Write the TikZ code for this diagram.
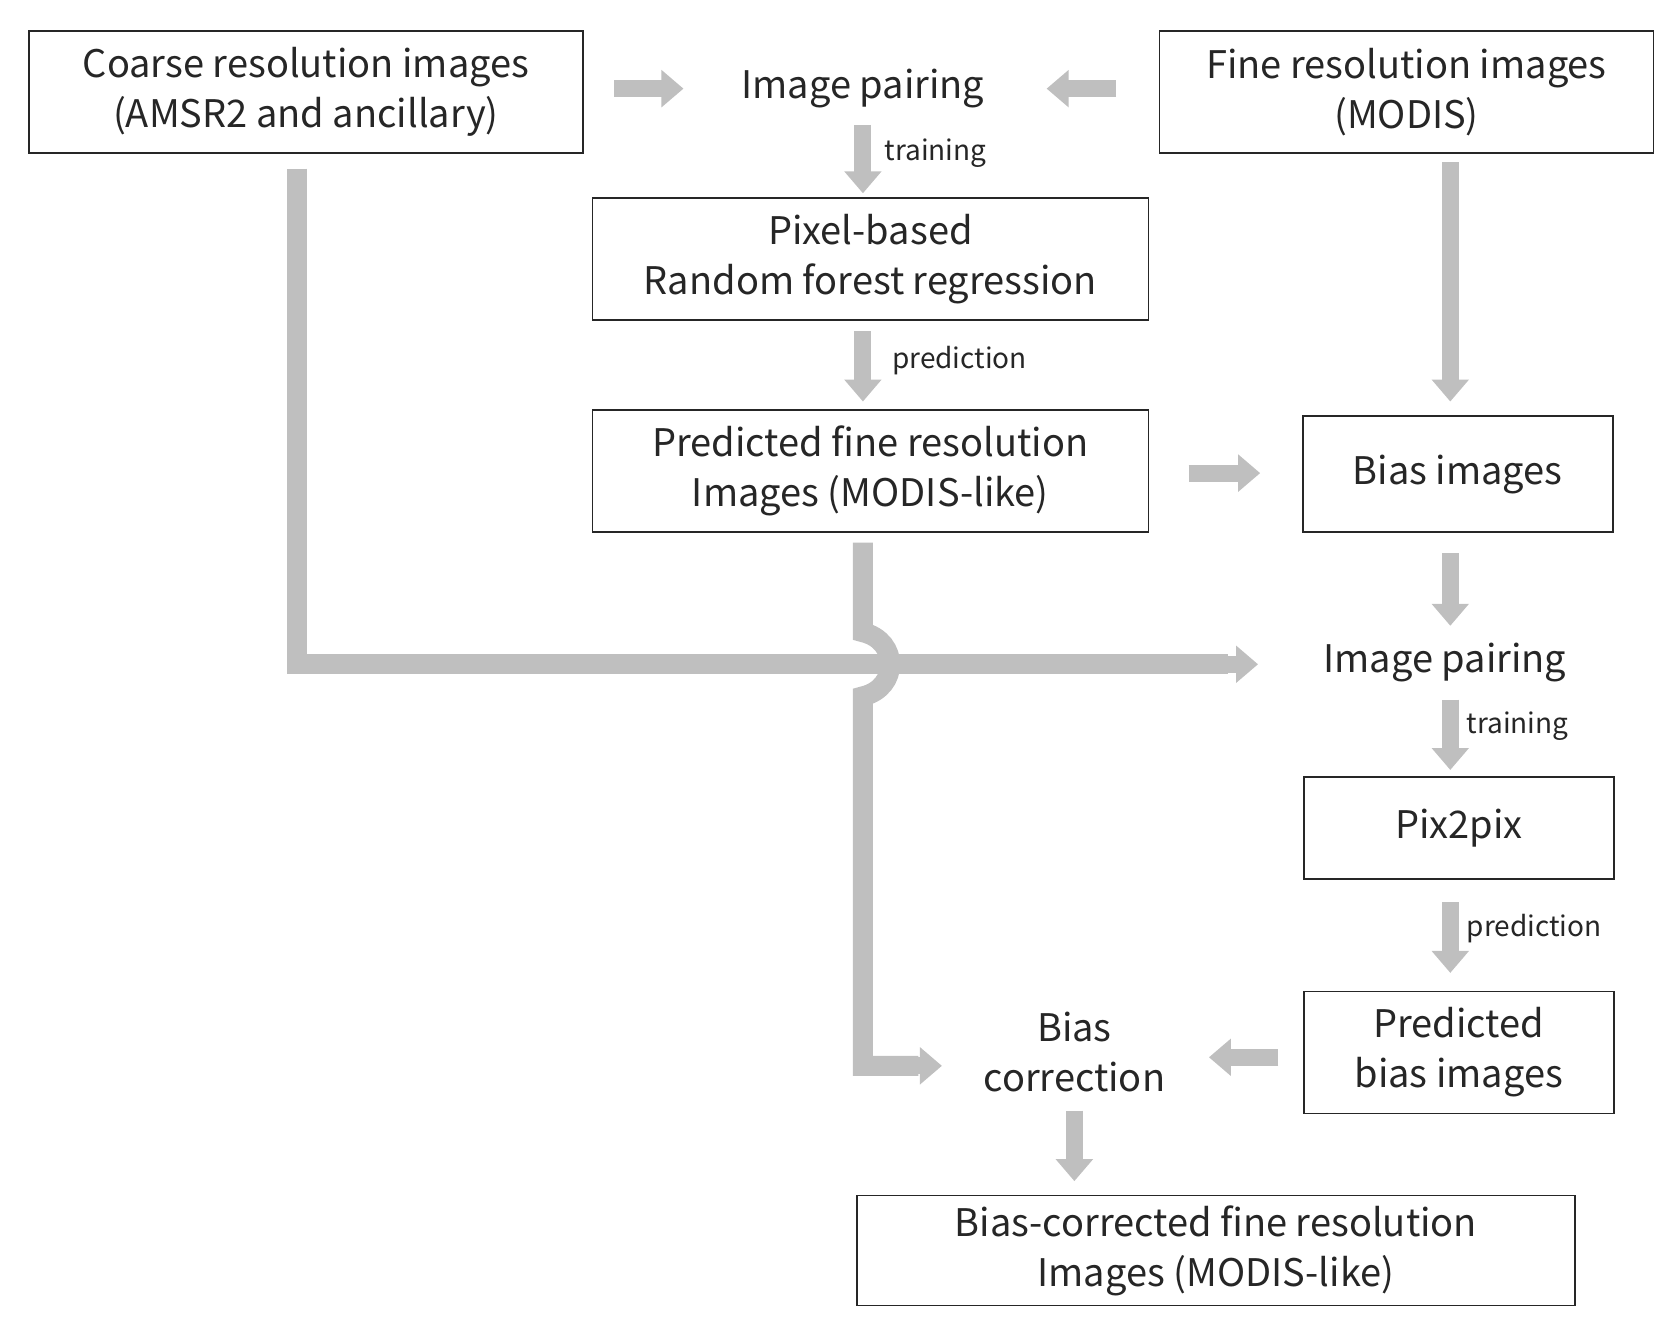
\documentclass[tikz,border=0pt]{standalone}
\usepackage{fontspec}
\setmainfont{Noto Sans CJK JP}
\usetikzlibrary{arrows.meta}
\definecolor{ag}{HTML}{BFBFBF}
\definecolor{tx}{HTML}{262626}
\begin{document}
\begin{tikzpicture}[x=0.534pt,y=-0.534pt,
 box/.style={draw=black!85,line width=0.8pt,inner sep=0pt,text=tx,font=\fontsize{19}{25}\selectfont,align=center},
 txt/.style={inner sep=0pt,text=tx,font=\fontsize{19}{25}\selectfont,align=center},
 lab/.style={inner sep=0pt,text=tx,font=\fontsize{14}{16}\selectfont,anchor=west},
 ga/.style={draw=ag,line width=8.5pt,-{Triangle[length=11pt,width=18pt]}},
 gl/.style={draw=ag,line width=10pt,line join=miter}]
\useasboundingbox (0,0) rectangle (1560,1233);
\node[box,minimum width=519\pgflinewidth,minimum width=277pt,minimum height=61pt] (coarse) at (286.5,86) {Coarse resolution images\\(AMSR2 and ancillary)};
\node[txt] (pair1) at (808,83) {Image pairing};
\node[box,minimum width=247pt,minimum height=61pt] (fine) at (1317,86) {Fine resolution images\\(MODIS)};
\node[box,minimum width=278pt,minimum height=61pt] (rf) at (815,242.5) {Pixel-based\\Random forest regression};
\node[box,minimum width=278pt,minimum height=61pt] (pred) at (815,441) {Predicted fine resolution\\Images (MODIS-like)};
\node[box,minimum width=155pt,minimum height=58pt] (bias) at (1365,444) {Bias images};
\node[txt] (pair2) at (1353,620) {Image pairing};
\node[box,minimum width=155pt,minimum height=51pt] (pix) at (1366,775.5) {Pix2pix};
\node[box,minimum width=155pt,minimum height=61pt] (pbias) at (1366,985.5) {Predicted\\bias images};
\node[txt] (corr) at (1006,985) {Bias\\correction};
\node[box,minimum width=359pt,minimum height=55pt] (final) at (1138.5,1171) {Bias-corrected fine resolution\\Images (MODIS-like)};
% arrows
\draw[ga] (575,83) -- (640,83);
\draw[ga] (1045,83) -- (980,83);
\draw[ga] (808,117) -- (808,181);
\node[lab] (l1) at (828,143) {training};
\draw[ga] (808,310) -- (808,376);
\node[lab] (l2) at (835,338) {prediction};
\draw[ga] (1358,152) -- (1358,376);
\draw[ga] (1113,443) -- (1180,443);
\draw[ga] (1358,518) -- (1358,586);
\draw[ga] (1358,655) -- (1358,721);
\node[lab] (l3) at (1373,680) {training};
\draw[ga] (1358,845) -- (1358,911);
\node[lab] (l4) at (1373,869) {prediction};
\draw[ga] (1197,990) -- (1132,990);
\draw[ga] (1006,1040) -- (1006,1106);
% long lines
\draw[gl] (278,158) -- (278,622) -- (1150,622);
\draw[ga] (1140,622) -- (1178,622);
\draw[gl] (808,508) -- (808,592) .. controls (842,600) and (842,644) .. (808,652) -- (808,998) -- (860,998);
\draw[ga] (850,998) -- (882,998);
\end{tikzpicture}
\end{document}
